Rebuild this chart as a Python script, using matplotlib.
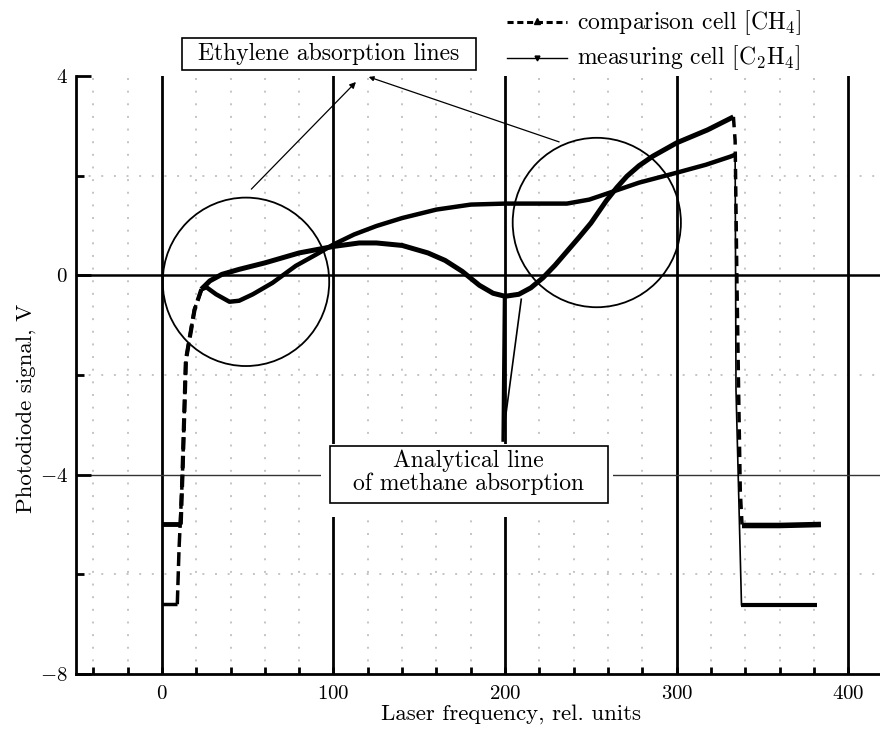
import matplotlib
matplotlib.use("Agg")
import matplotlib.pyplot as plt
from matplotlib.patches import Ellipse, Rectangle

plt.rcParams["font.family"] = "cmr10"
plt.rcParams["mathtext.fontset"] = "cm"
plt.rcParams["axes.formatter.use_mathtext"] = True
plt.rcParams["font.size"] = 15

# comparison cell [CH4], smooth part
comp_x = [23, 28, 35, 45, 60, 80, 100, 115, 125, 140, 155, 165, 175, 185, 193, 200,
          208, 215, 222, 229, 236, 243, 250, 259, 265, 271, 278, 286, 300, 318, 333]
comp_y = [-0.28, -0.11, 0.02, 0.12, 0.25, 0.45, 0.58, 0.65, 0.65, 0.6, 0.45, 0.3, 0.08,
          -0.2, -0.36, -0.42, -0.38, -0.25, -0.05, 0.2, 0.48, 0.76, 1.05, 1.5, 1.76, 1.99,
          2.2, 2.39, 2.66, 2.92, 3.18]
# comparison cell, steep rise / drop / baselines
comp_rise_x = [0, 11, 12, 14, 19, 23]
comp_rise_y = [-5.0, -5.0, -4.0, -1.7, -0.7, -0.28]
comp_drop_x = [333, 334, 335, 336, 337, 338]
comp_drop_y = [3.18, 2.7, 0.0, -2.25, -4.33, -5.0]
comp_tail_x = [338, 360, 384]
comp_tail_y = [-5.02, -5.02, -5.0]
# methane line spike
spike_x = [199.5, 198.7, 199.1, 209.4]
spike_y = [-0.42, -3.31, -3.14, -0.48]

# measuring cell [C2H4]
meas_x = [23, 26, 31.6, 39.4, 45, 53, 64.5, 78, 90, 100, 112, 125, 140, 160, 180, 200,
          220, 236, 249, 261, 278, 300, 317, 331, 334]
meas_y = [-0.28, -0.24, -0.38, -0.53, -0.51, -0.38, -0.15, 0.19, 0.42, 0.62, 0.82, 0.99,
          1.15, 1.32, 1.42, 1.44, 1.44, 1.44, 1.52, 1.66, 1.86, 2.06, 2.22, 2.38, 2.42]
meas_rise_x = [0, 9, 10, 12, 14, 19, 23]
meas_rise_y = [-6.6, -6.6, -5.5, -4.0, -1.7, -0.68, -0.3]
meas_drop_x = [334, 334.5, 336, 337.7]
meas_drop_y = [2.42, -2.3, -4.3, -6.61]
meas_tail_x = [337.7, 381.5]
meas_tail_y = [-6.61, -6.61]

fig = plt.figure(figsize=(8.8, 7.31), dpi=100)
ax = fig.add_axes([0.0864, 0.078, 0.9136, 0.818])
ax.set_xlim(-50, 418.4)
ax.set_ylim(-8, 4)

for s in ["top", "right"]:
    ax.spines[s].set_visible(False)
for s in ["left", "bottom"]:
    ax.spines[s].set_linewidth(2)

# grid
dot = dict(color="#c4c4c4", lw=1.4, linestyle=(0, (1, 5.5)), zorder=0)
for gx in range(-40, 420, 20):
    if gx % 100 != 0:
        ax.axvline(gx, **dot)
for gy in [2, -2, -6]:
    ax.axhline(gy, **dot)
for gx in [0, 100, 200, 300, 400]:
    ax.axvline(gx, color="black", lw=2, zorder=1)
ax.axhline(0, color="black", lw=1.8, zorder=1)
ax.axhline(-4, color="#333333", lw=1.0, zorder=1)

# ticks
ax.set_xticks([0, 100, 200, 300, 400])
ax.set_xticks(range(-40, 420, 20), minor=True)
ax.set_yticks([-8, -4, 0, 4])
ax.set_yticklabels(["$-8$", "$-4$", "$0$", "$4$"])
ax.set_yticks([-6, -2, 2], minor=True)
ax.tick_params(axis="x", which="both", direction="in", length=5, width=2, pad=8)
ax.tick_params(axis="y", which="major", direction="in", length=11, width=2, pad=6)
ax.tick_params(axis="y", which="minor", direction="in", length=6, width=2)

ax.set_xlabel("Laser frequency, rel. units", fontsize=16.5)
ax.xaxis.set_label_coords(0.541, -0.05)
ax.set_ylabel("Photodiode signal, V", fontsize=16.5)
ax.yaxis.set_label_coords(-0.05, 0.445)

# curves
thick = dict(color="black", solid_joinstyle="round", solid_capstyle="butt", zorder=3)
ax.plot(comp_x, comp_y, lw=3.6, **thick)
ax.plot(comp_rise_x[:2], comp_rise_y[:2], lw=3.5, **thick)
ax.plot(comp_rise_x[1:], comp_rise_y[1:], color="black", lw=3, linestyle=(0, (3, 1.5)), zorder=3)
ax.plot(comp_drop_x, comp_drop_y, color="black", lw=2.5, linestyle=(0, (3, 2)), zorder=3)
ax.plot(comp_tail_x, comp_tail_y, lw=4, **thick)
ax.plot(spike_x[:2], spike_y[:2], color="black", lw=2.2, zorder=3)
ax.plot(spike_x[2:], spike_y[2:], color="black", lw=1.2, zorder=3)

ax.plot(meas_x, meas_y, lw=3.2, **thick)
ax.plot(meas_rise_x[:2], meas_rise_y[:2], lw=2.5, **thick)
ax.plot(meas_rise_x[1:], meas_rise_y[1:], color="black", lw=2.5, linestyle=(0, (4, 1.5)), zorder=3)
ax.plot(meas_drop_x, meas_drop_y, color="black", lw=1.2, zorder=3)
ax.plot(meas_tail_x, meas_tail_y, lw=3, **thick)

# circles marking ethylene lines
ax.add_patch(Ellipse((49, -0.13), 97, 3.38, fill=False, ec="black", lw=1.3, zorder=4))
ax.add_patch(Ellipse((253.4, 1.06), 98, 3.4, fill=False, ec="black", lw=1.3, zorder=4))

ax.annotate("", xy=(114.2, 3.92), xytext=(51, 1.69),
            arrowprops=dict(arrowstyle="-|>", lw=0.9, color="black", mutation_scale=9),
            annotation_clip=False)
ax.annotate("", xy=(119, 4.0), xytext=(233, 2.66),
            arrowprops=dict(arrowstyle="-|>", lw=0.9, color="black", mutation_scale=7),
            annotation_clip=False)

# label boxes
ax.add_patch(Rectangle((12, 4.12), 170.8, 0.64, fill=False, ec="black", lw=1.2,
                       clip_on=False, zorder=6))
ax.text(97.4, 4.44, "Ethylene absorption lines", ha="center", va="center",
        fontsize=17, zorder=7, clip_on=False)

ax.add_patch(Rectangle((93, -4.84), 170, 1.46, fc="white", ec="none", zorder=5))
ax.add_patch(Rectangle((97.7, -4.56), 162.1, 1.14, fc="white", ec="black", lw=1.2, zorder=6))
ax.text(178.8, -3.95, "Analytical line\nof methane absorption", ha="center", va="center",
        multialignment="center", fontsize=17, linespacing=1.0, zorder=7)

# legend drawn by hand above the plot
ax.plot([201, 236], [5.08, 5.08], color="black", lw=2.2, linestyle=(0, (2, 1.2)),
        clip_on=False)
ax.plot([218.5], [5.1], marker="^", ms=4, color="black", clip_on=False)
ax.plot([201, 236], [4.36, 4.36], color="black", lw=1.0, clip_on=False)
ax.plot([218.5], [4.36], marker="v", ms=3.5, color="black", clip_on=False)
ax.text(241.7, 5.08, "comparison cell [CH$_4$]", va="center", fontsize=17, clip_on=False)
ax.text(241.7, 4.36, "measuring cell [C$_2$H$_4$]", va="center", fontsize=17, clip_on=False)

fig.savefig("out.png", dpi=100)
